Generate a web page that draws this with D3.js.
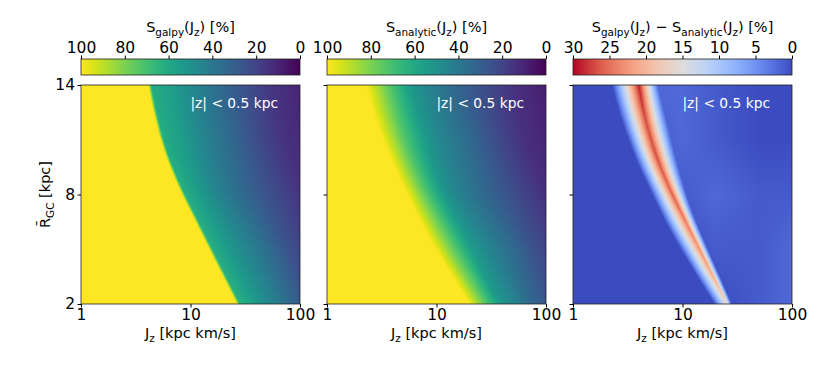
<!DOCTYPE html>
<html>
<head>
<meta charset="utf-8">
<script src="https://cdn.jsdelivr.net/npm/d3@7"></script>
<style>
body { margin: 0; background: #fff; }
text { font-family: "DejaVu Sans", sans-serif; }
</style>
</head>
<body>
<div id="chart"></div>
<script>
// mean galactocentric radius rows [kpc]
var rRows = [2, 3, 4, 5, 6, 7, 8, 9, 10, 11, 12, 13, 14];
// Jz [kpc km/s] where S_galpy leaves 100 %
var galpyEdge = [26.4, 21.8, 17.9, 14.8, 12.2, 10.1, 8.3, 7.0, 6.0, 5.3, 4.8, 4.4, 4.1];
// Jz where S_analytic leaves 100 %, and where its steep fall ends
var analyticStart = [19.9, 15.6, 12.3, 9.7, 7.8, 6.4, 5.35, 4.45, 3.75, 3.2, 2.8, 2.48, 2.24];
var analyticKnee = [25.0, 20.6, 16.9, 14.0, 11.6, 9.6, 8.0, 6.8, 5.85, 5.15, 4.65, 4.25, 3.95];

// tails beyond the edge: rows = tailRows, columns = Jz as a multiple of the edge (galpy) or knee (analytic)
var tailRows = [2, 5, 8, 11, 14];
var tailMult = [1, 1.5, 2, 3, 5, 8, 12, 25];
var galpyTail = [
    [64, 52, 45, 33, 20, 14, 10, 6],
    [63, 52, 46, 37, 25, 17, 12, 7],
    [63, 52, 45, 36, 27, 20, 14, 8],
    [62, 55, 48, 40, 30, 21, 15, 9],
    [62, 56, 50, 41, 31, 23, 16, 9]
];
var analyticTail = [
    [83, 54, 46, 33, 22, 16, 12, 7],
    [77, 55, 47, 38, 27, 19, 14, 8],
    [74, 52, 44, 36, 27, 20, 14, 8],
    [73, 55, 47, 39, 29, 20, 14, 8],
    [71, 53, 46, 37, 28, 21, 15, 8]
];

// difference ridge: Jz of left foot, peak, right foot, and the peak value [%]
var diffLeft = [19.6, 15.3, 12.1, 9.6, 7.7, 6.3, 5.3, 4.4, 3.7, 3.2, 2.8, 2.48, 2.27];
var diffPeakJz = [25.6, 21.2, 17.4, 14.4, 11.8, 9.8, 8.1, 6.8, 5.85, 5.15, 4.65, 4.25, 4.0];
var diffRight = [28.3, 24.0, 20.3, 17.2, 14.6, 12.5, 11.0, 9.9, 8.9, 8.1, 7.4, 6.7, 6.1];
var diffPeak = [17, 20, 22, 23, 24, 25, 26, 26, 27, 27, 27, 28, 29];
// faint residue right of the ridge, columns at diffHaloJz
var diffHaloJz = [5, 10, 20, 50, 100];
var diffHalo = [
    [0, 0, 0, 1, 2],
    [0, 0, 1, 1, 2],
    [0, 1, 2, 1, 1],
    [1, 2, 1, 0, 0],
    [2, 2, 1, 0, 0]
];

var xTicks = [1, 10, 100];
var yTicks = [2, 8, 14];
var sTicks = [100, 80, 60, 40, 20, 0];
var dTicks = [30, 25, 20, 15, 10, 5, 0];

var coolwarm = ['#3b4cc0', '#6282ea', '#8db0fe', '#b8d0f9', '#dddddd', '#f5c4ac', '#f4987a', '#dc5d4a', '#b40426'];

var W = 219, H = 219;
var panelX = [81, 327, 573];
var panelY = 85;
var log = Math.log10;

var svg = d3.select('#chart').append('svg')
    .attr('width', 830)
    .attr('height', 369);

var x = d3.scaleLog().domain([1, 100]).range([0, W]);
var y = d3.scaleLinear().domain([2, 14]).range([H, 0]);
var rT = d3.scaleLinear().domain(d3.extent(rRows)).range([0, 1]);

var viridis = function(s) { return d3.interpolateViridis(s / 100); };
var cw = d3.scaleLinear()
    .domain(d3.range(coolwarm.length).map(function(i) { return i * 30 / (coolwarm.length - 1); }))
    .range(coolwarm)
    .clamp(true);

// smooth curve through the per-radius readings
function rowCurve(vals) {
    var f = d3.interpolateBasis(vals);
    return function(r) { return f(rT(r)); };
}
function logRowCurve(vals) {
    return rowCurve(vals.map(log));
}
// tail profile at radius r, as a function of log10(Jz / reference)
function tailProfile(grid, r) {
    var vals = tailMult.map(function(m, j) {
        return d3.scaleLinear().domain(tailRows).range(grid.map(function(row) { return row[j]; }))(r);
    });
    return d3.scaleLinear().domain(tailMult.map(log)).range(vals).clamp(true);
}

var gEdge = logRowCurve(galpyEdge);
var aStart = logRowCurve(analyticStart);
var aKnee = logRowCurve(analyticKnee);
var dLeft = logRowCurve(diffLeft);
var dPeakJz = logRowCurve(diffPeakJz);
var dRight = logRowCurve(diffRight);
var dPeak = rowCurve(diffPeak);

function galpyRow(r) {
    var edge = gEdge(r);
    var tail = tailProfile(galpyTail, r);
    var ramp = 0.03;
    return function(lj) {
        if (lj < edge) return 100;
        if (lj < edge + ramp) return 100 + (tail(0) - 100) * (lj - edge) / ramp;
        return tail(lj - edge - ramp);
    };
}

function analyticRow(r) {
    var start = aStart(r), knee = aKnee(r);
    var tail = tailProfile(analyticTail, r);
    return function(lj) {
        if (lj < start) return 100;
        if (lj < knee) return 100 + (tail(0) - 100) * (lj - start) / (knee - start);
        return tail(lj - knee);
    };
}

function diffRow(r) {
    var peak = dPeakJz(r);
    var ridge = d3.scaleLinear().domain([dLeft(r), peak, dRight(r)])
        .range([0, dPeak(r), 0]).clamp(true);
    var hv = diffHaloJz.map(function(c, j) {
        return d3.scaleLinear().domain(tailRows).range(diffHalo.map(function(row) { return row[j]; }))(r);
    });
    var halo = d3.scaleLinear().domain(diffHaloJz.map(log)).range(hv).clamp(true);
    return function(lj) {
        return lj > peak ? Math.max(ridge(lj), halo(lj)) : ridge(lj);
    };
}

function heatmap(g, rowFn, colorFn) {
    var canvas = document.createElement('canvas');
    canvas.width = W;
    canvas.height = H;
    var ctx = canvas.getContext('2d');
    var img = ctx.createImageData(W, H);
    for (var j = 0; j < H; j++) {
        var prof = rowFn(y.invert(j + 0.5));
        for (var i = 0; i < W; i++) {
            var c = d3.rgb(colorFn(prof(log(x.invert(i + 0.5)))));
            var k = (j * W + i) * 4;
            img.data[k] = c.r;
            img.data[k + 1] = c.g;
            img.data[k + 2] = c.b;
            img.data[k + 3] = 255;
        }
    }
    ctx.putImageData(img, 0, 0);
    g.append('image')
        .attr('width', W)
        .attr('height', H)
        .attr('preserveAspectRatio', 'none')
        .attr('href', canvas.toDataURL());
}

// text with subscripts: parts = [[text, isSub], ...]
function mathText(sel, parts, size) {
    parts.forEach(function(p, i) {
        var prevSub = i > 0 && parts[i - 1][1];
        var t = sel.append('tspan').text(p[0]);
        if (p[1]) t.attr('font-size', size * 0.72).attr('dy', prevSub ? 0 : size * 0.28);
        else if (prevSub) t.attr('dy', -size * 0.28);
    });
}

var titles = [
    [['S', 0], ['galpy', 1], ['(J', 0], ['z', 1], [') [%]', 0]],
    [['S', 0], ['analytic', 1], ['(J', 0], ['z', 1], [') [%]', 0]],
    [['S', 0], ['galpy', 1], ['(J', 0], ['z', 1], [') \u2212 S', 0], ['analytic', 1], ['(J', 0], ['z', 1], [') [%]', 0]]
];
var rows = [galpyRow, analyticRow, diffRow];
var colors = [viridis, viridis, cw];

var tickFont = 15.5, labelFont = 14.5, titleFont = 14.5;

panelX.forEach(function(px, p) {
    var g = svg.append('g').attr('transform', 'translate(' + px + ',' + panelY + ')');
    heatmap(g, rows[p], colors[p]);

    g.append('rect')
        .attr('width', W)
        .attr('height', H)
        .attr('fill', 'none')
        .attr('stroke', '#222')
        .attr('stroke-width', 0.8);

    var xa = g.append('g')
        .attr('transform', 'translate(0,' + H + ')')
        .call(d3.axisBottom(x).tickValues(xTicks).tickFormat(d3.format('d')).tickSize(3.5).tickPadding(1.5));
    xa.select('.domain').remove();
    xa.selectAll('text').attr('font-size', tickFont).attr('fill', '#000').attr('font-family', 'DejaVu Sans');

    var ya = g.append('g')
        .call(d3.axisLeft(y).tickValues(yTicks).tickSize(3.5).tickPadding(2.5));
    ya.select('.domain').remove();
    ya.selectAll('text').attr('font-size', tickFont).attr('fill', '#000').attr('font-family', 'DejaVu Sans');
    if (p > 0) ya.selectAll('text').remove();

    var xl = g.append('text')
        .attr('x', W / 2)
        .attr('y', 337.5 - panelY)
        .attr('text-anchor', 'middle')
        .attr('font-size', labelFont);
    mathText(xl, [['J', 0], ['z', 1], [' [kpc km/s]', 0]], labelFont);

    g.append('text')
        .attr('x', W - 22)
        .attr('y', 23)
        .attr('text-anchor', 'end')
        .attr('fill', '#fff')
        .attr('font-size', 13.8)
        .text('|z| < 0.5 kpc');

    // colorbar
    var cbY = 59 - panelY, cbH = 16;
    var domain = p < 2 ? [100, 0] : [30, 0];
    var cb = d3.scaleLinear().domain(domain).range([0, W]);
    var grad = svg.append('defs').append('linearGradient').attr('id', 'cb' + p);
    d3.range(0, 1.0001, 0.05).forEach(function(t) {
        grad.append('stop')
            .attr('offset', t)
            .attr('stop-color', colors[p](cb.invert(t * W)));
    });
    g.append('rect')
        .attr('y', cbY)
        .attr('width', W)
        .attr('height', cbH)
        .attr('fill', 'url(#cb' + p + ')')
        .attr('stroke', '#222')
        .attr('stroke-width', 0.8);
    var ca = g.append('g')
        .attr('transform', 'translate(0,' + cbY + ')')
        .call(d3.axisTop(cb).tickValues(p < 2 ? sTicks : dTicks).tickSize(3.5).tickPadding(2.5));
    ca.select('.domain').remove();
    ca.selectAll('text').attr('font-size', tickFont).attr('fill', '#000').attr('font-family', 'DejaVu Sans');

    var tt = g.append('text')
        .attr('x', W / 2)
        .attr('y', 32 - panelY)
        .attr('text-anchor', 'middle')
        .attr('font-size', titleFont);
    mathText(tt, titles[p], titleFont);
});

var yl = svg.append('text')
    .attr('transform', 'translate(50,' + (panelY + H / 2) + ') rotate(-90)')
    .attr('text-anchor', 'middle')
    .attr('font-size', labelFont);
mathText(yl, [['R\u0304', 0], ['GC', 1], [' [kpc]', 0]], labelFont);
</script>
</body>
</html>
